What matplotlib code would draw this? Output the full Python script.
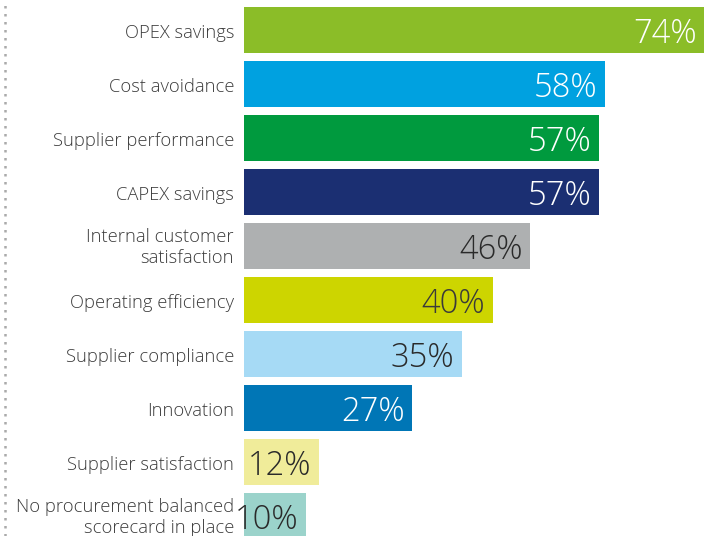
import matplotlib
matplotlib.use("Agg")
import matplotlib.pyplot as plt
from matplotlib.lines import Line2D

plt.rcParams['font.family'] = ['Open Sans', 'DejaVu Sans']

categories = ['OPEX savings', 'Cost avoidance', 'Supplier performance', 'CAPEX savings',
              'Internal customer\nsatisfaction', 'Operating efficiency', 'Supplier compliance',
              'Innovation', 'Supplier satisfaction', 'No procurement balanced\nscorecard in place']
values = [74, 58, 57, 57, 46, 40, 35, 27, 12, 10]
colors = ['#8BBD28', '#00A1E0', '#009A3E', '#1B2F72', '#AEB0B1',
          '#CDD500', '#A6DAF5', '#0076B6', '#F0EC9A', '#9BD3CB']
label_colors = ['white', 'white', 'white', 'white', '#2a2a2a',
                '#3a3a3a', '#2a2a2a', 'white', '#2a2a2a', '#2a2a2a']

fig = plt.figure(figsize=(7.09, 5.36), dpi=100)
ax = fig.add_axes([244 / 709, 0, 465 / 709, 1])

y = list(range(len(values)))
ax.barh(y, values, height=0.843, color=colors)
ax.set_xlim(0, 465 / 6.22)
ax.set_ylim(9.37, -0.556)

for i, v in enumerate(values):
    ax.text(v - 1.2, i + 0.07, f'{v}%', ha='right', va='center', fontsize=23.5,
            fontweight='light', color=label_colors[i])
    shift = 0.03 if '\n' in categories[i] else 0.05
    ax.annotate(categories[i], xy=(0, i + shift), xytext=(-10, 0), textcoords='offset pixels',
                ha='right', va='center', fontsize=13.2, fontweight='light',
                color='#3c3c3c', linespacing=1.22)

ax.set_yticks([])
ax.set_xticks([])
for s in ax.spines.values():
    s.set_visible(False)

fig.add_artist(Line2D([5 / 709, 5 / 709], [0, 1], transform=fig.transFigure,
                      color='#AAAAAA', lw=1.8, linestyle=(0, (1, 2.2))))

fig.savefig('out.png', dpi=100)
